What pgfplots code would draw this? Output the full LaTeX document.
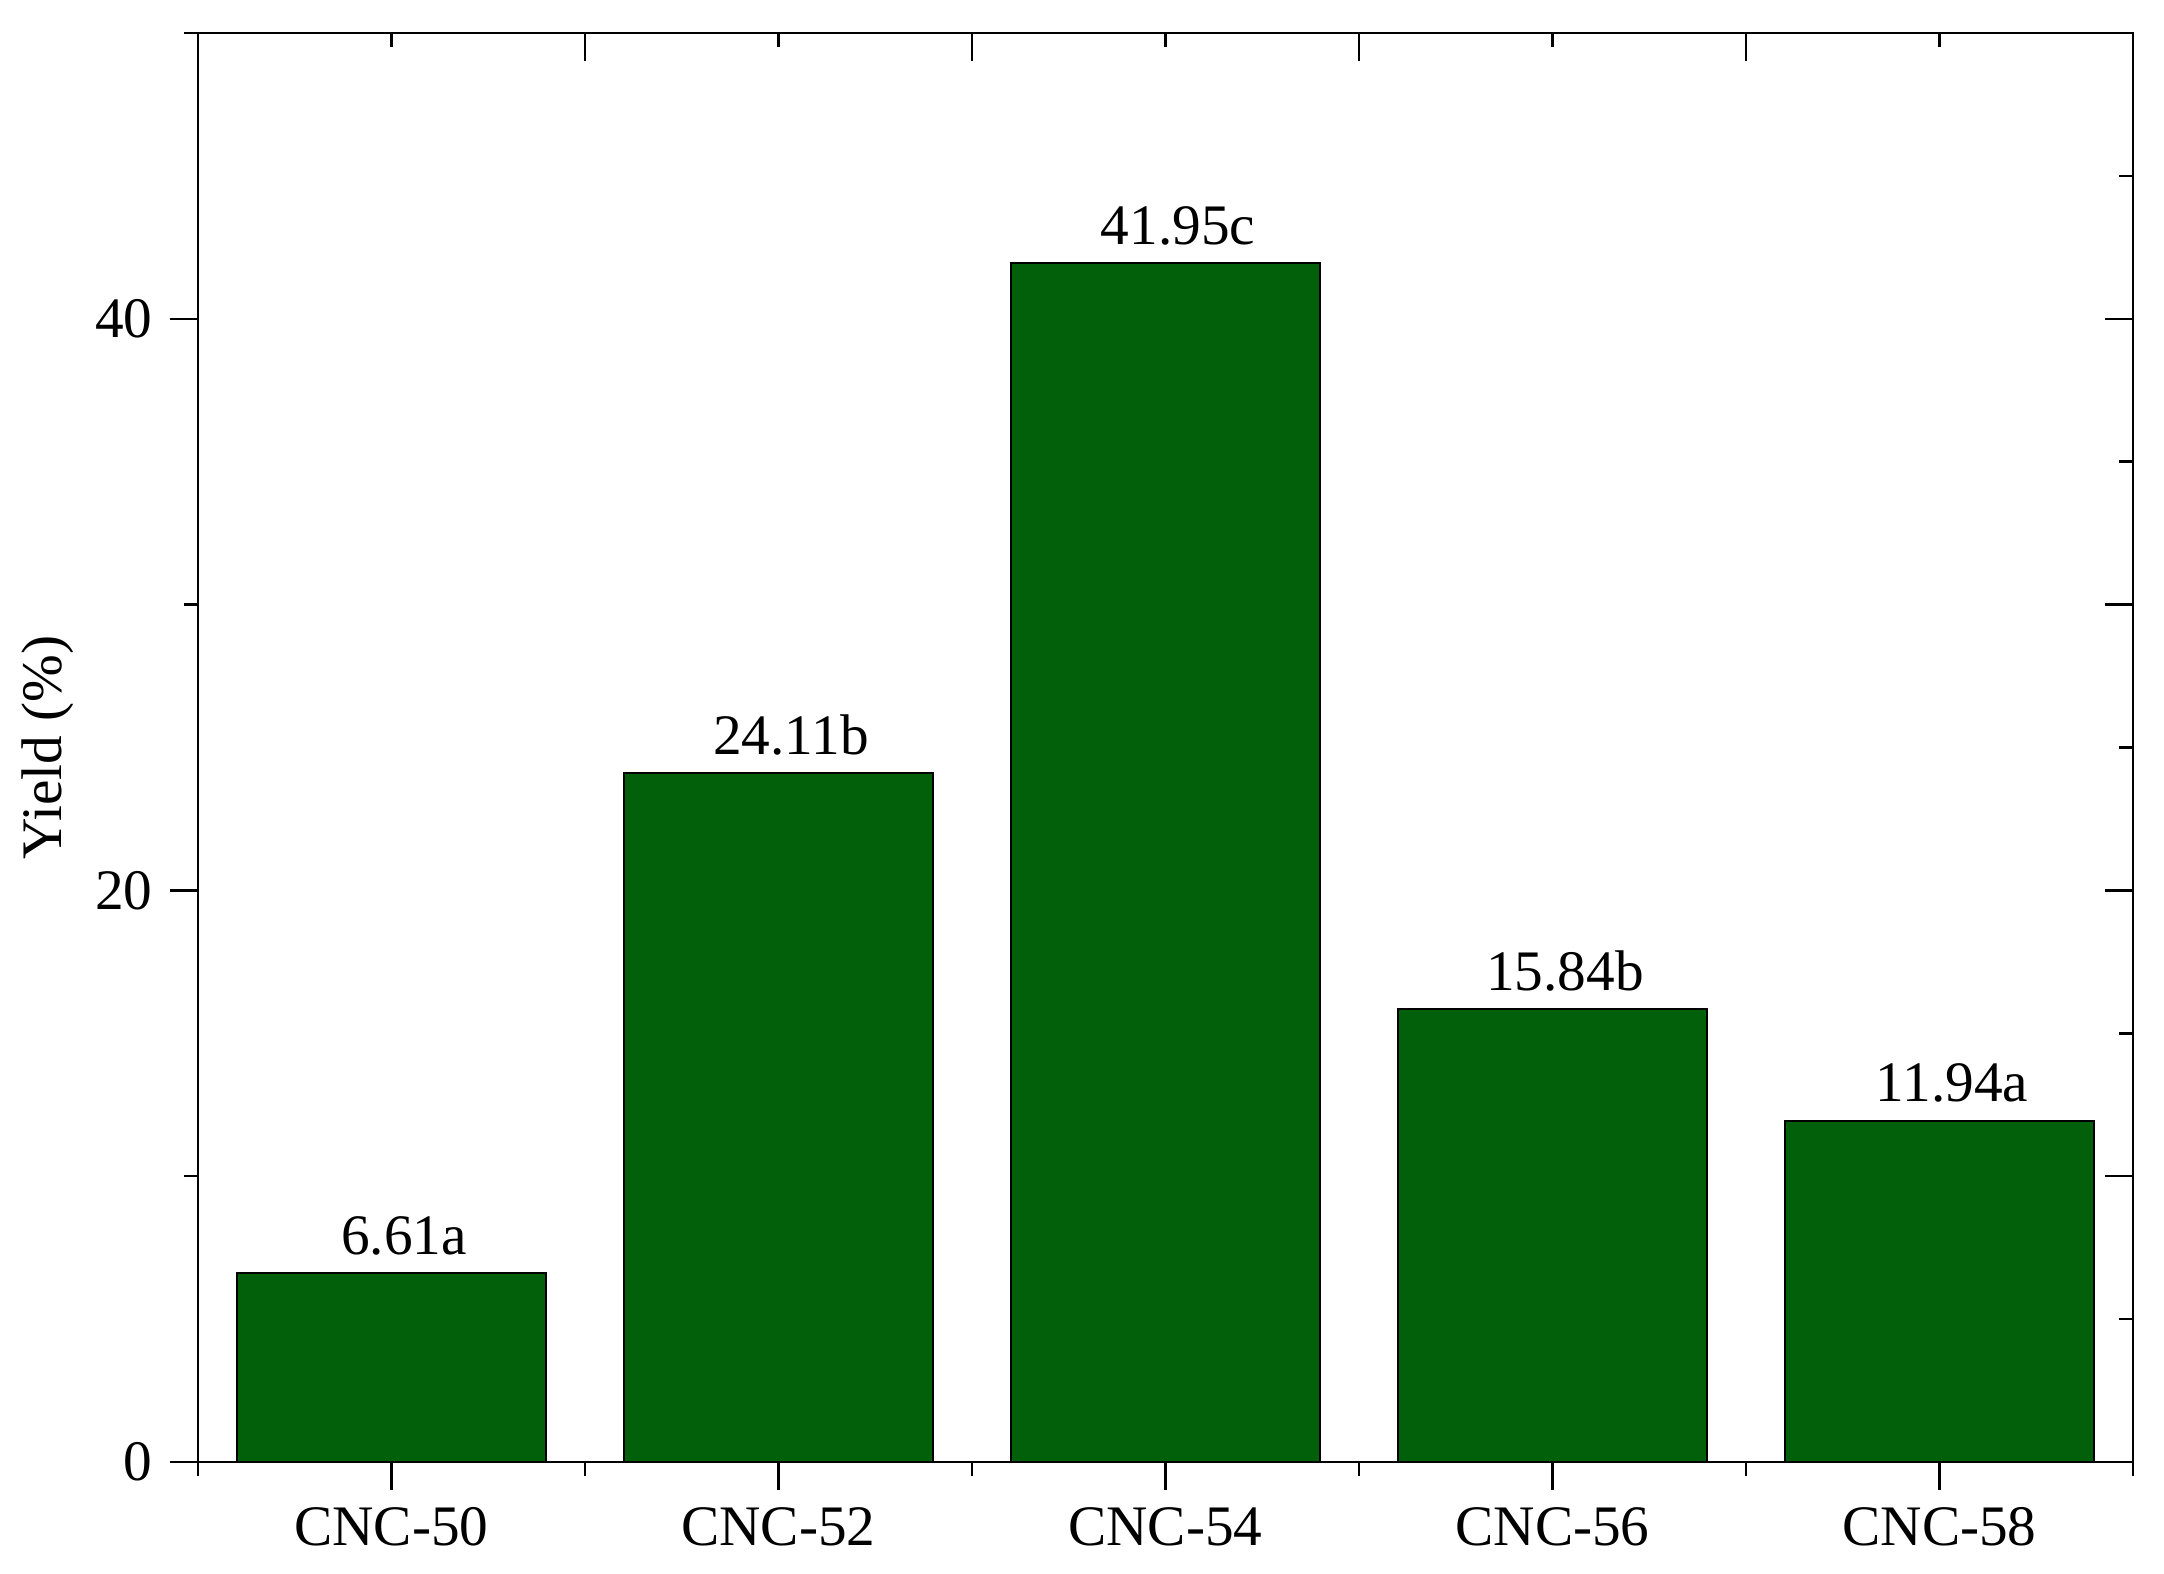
\documentclass[border=0pt]{standalone}
\usepackage{fontspec}
\setmainfont{Liberation Serif}
\usepackage{pgfplots}
\pgfplotsset{compat=1.18}
\definecolor{bargreen}{HTML}{03600A}

\begin{document}
\begin{tikzpicture}
\pgfplotsset{
  frame/.style={
    scale only axis, width=387bp, height=285.8bp,
    xmin=-0.5, xmax=4.5, ymin=0, ymax=50,
    axis line style={line width=0.55bp, black},
    tick style={line width=0.5bp, black},
    major tick length=5.6bp, minor tick length=2.8bp,
  },
}
% bars, labels and the outward ticks
\begin{axis}[frame, name=main,
  ybar, bar width=0.8,
  xtick={0,1,2,3,4},
  xticklabels={CNC-50,CNC-52,CNC-54,CNC-56,CNC-58},
  minor xtick={-0.5,0.5,1.5,2.5,3.5,4.5},
  ytick={0,20,40}, minor ytick={10,30,50},
  xtick pos=bottom, ytick pos=left, tick align=outside,
  ylabel={Yield (\%)}, ylabel shift=-2.5bp,
  tick label style={font=\fontsize{11.5}{13}\selectfont},
  label style={font=\fontsize{11.5}{13}\selectfont},
  /pgf/number format/assume math mode=true,
  nodes near coords, point meta=explicit symbolic,
  every node near coord/.append style={font=\fontsize{11.5}{13}\selectfont,
    anchor=south, inner sep=0pt, yshift=3.4bp, xshift=2.5bp},
]
\addplot[ybar, fill=bargreen, draw=black, line width=0.4bp] coordinates {
  (0,6.61) [6.61a]
  (1,24.11) [24.11b]
  (2,41.95) [41.95c]
  (3,15.84) [15.84b]
  (4,11.94) [11.94a]
};
\end{axis}
% inward ticks on top and right
\begin{axis}[frame,
  xtick={-0.5,0.5,1.5,2.5,3.5,4.5}, minor xtick={0,1,2,3,4},
  ytick={0,10,20,30,40,50}, minor ytick={5,15,25,35,45},
  xtick pos=top, ytick pos=right, tick align=inside,
  xticklabels={}, yticklabels={},
]
\end{axis}
\pgfresetboundingbox
\path ([xshift=-39.6bp,yshift=-22.4bp]main.south west) rectangle ([xshift=6.2bp,yshift=6.6bp]main.north east);
\end{tikzpicture}
\end{document}
